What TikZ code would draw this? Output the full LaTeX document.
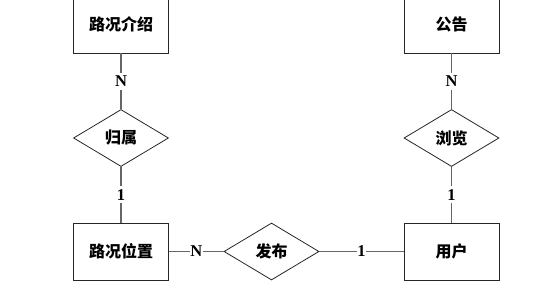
\documentclass[tikz,border=0pt]{standalone}
\usepackage{fontspec}
\setmainfont{Liberation Serif}
\newfontfamily\cjk{Noto Sans CJK SC}
\usetikzlibrary{shapes.geometric}
\begin{document}
\begin{tikzpicture}[x=1pt,y=-1pt,
  entity/.style={draw=black!85, line width=0.8pt, fill=white, minimum width=95pt, minimum height=57pt, inner sep=0pt, font=\cjk\bfseries\fontsize{16}{16}\selectfont},
  rel/.style={draw=black!85, line width=0.8pt, fill=white, diamond, aspect=1.7, minimum width=95pt, minimum height=57pt, inner sep=0pt, font=\cjk\bfseries\fontsize{16}{16}\selectfont},
  conn/.style={draw=black!60, line width=1.3pt},
  lbl/.style={fill=white, inner xsep=0.5pt, inner ysep=3pt, font=\bfseries\fontsize{16.5}{16.5}\selectfont}]
\useasboundingbox (0,0) rectangle (536,289);
\clip (0,0) rectangle (536,289);
\node[entity] (jieshao) at (121,24.5) {路况介绍};
\node[entity] (gonggao) at (451.5,24.5) {公告};
\node[rel] (guishu) at (121,138) {归属};
\node[rel] (liulan) at (451.5,138) {浏览};
\node[entity] (weizhi) at (121,251.5) {路况位置};
\node[entity] (yonghu) at (451.5,251.5) {用户};
\node[rel] (fabu) at (271.5,251.5) {发布};
\draw[conn] (jieshao) -- node[lbl] {N} (guishu);
\draw[conn] (guishu) -- node[lbl] {1} (weizhi);
\draw[conn] (gonggao) -- node[lbl] {N} (liulan);
\draw[conn] (liulan) -- node[lbl] {1} (yonghu);
\draw[conn] (weizhi) -- node[lbl] {N} (fabu);
\draw[conn] (fabu) -- node[lbl] {1} (yonghu);
\end{tikzpicture}
\end{document}
